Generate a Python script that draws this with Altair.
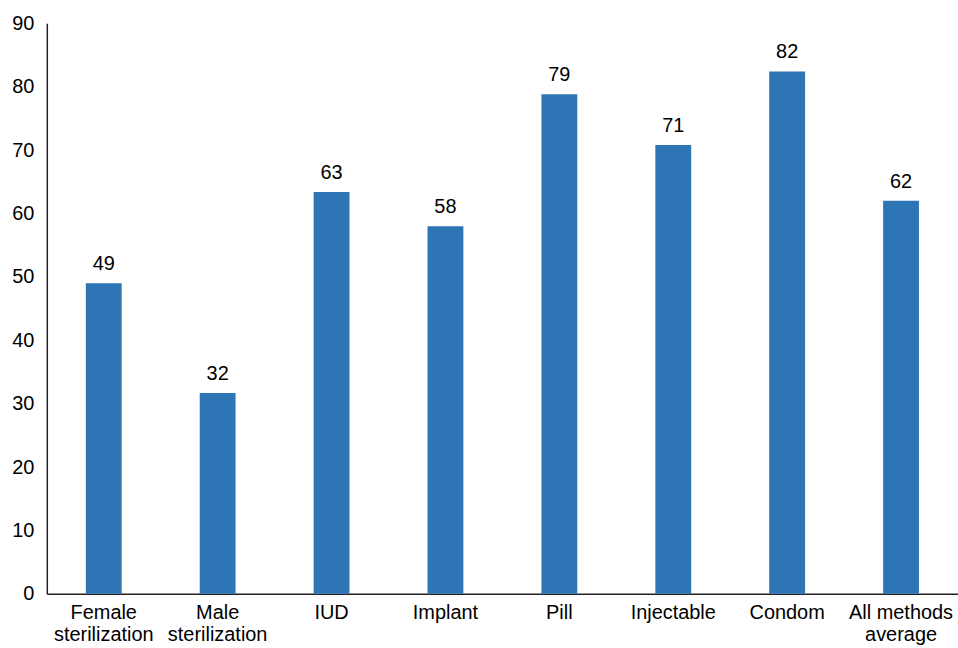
import altair as alt
import pandas as pd

categories = ["Female\nsterilization", "Male\nsterilization", "IUD", "Implant", "Pill",
              "Injectable", "Condom", "All methods\naverage"]
values = [49.0, 31.7, 63.4, 58.0, 78.8, 70.8, 82.4, 62.0]
labels = ["49", "32", "63", "58", "79", "71", "82", "62"]

df = pd.DataFrame({"cat": categories, "value": values, "label": labels})

FONT = "Liberation Sans"
BLUE = "#2E75B6"
FS = 20

x = alt.X("cat:N", sort=categories, title=None,
          scale=alt.Scale(paddingInner=0, paddingOuter=0),
          axis=alt.Axis(labelAngle=0, labelExpr="split(datum.label, '\\n')",
                        ticks=False, labelPadding=9, labelFontSize=FS, labelFont=FONT,
                        labelColor="#000000", domainColor="#222222", domainWidth=1.5,
                        labelLineHeight=22, labelBaseline="top", grid=False))
y = alt.Y("value:Q", title=None,
          scale=alt.Scale(domain=[0, 90], nice=False),
          axis=alt.Axis(values=list(range(0, 91, 10)), grid=False, ticks=False,
                        labelPadding=13, labelFontSize=FS, labelFont=FONT,
                        labelColor="#000000", domainColor="#222222", domainWidth=1.5))

bars = alt.Chart(df).mark_bar(size=36, color=BLUE).encode(x=x, y=y)
text = alt.Chart(df).mark_text(baseline="bottom", dy=-9, fontSize=FS, font=FONT,
                               color="#000000").encode(
    x=alt.X("cat:N", sort=categories),
    y=alt.Y("value:Q"),
    text="label:N")

chart = (bars + text).properties(
    width=915, height=573,
    background="white",
    autosize=alt.AutoSizeParams(type="none"),
    padding={"left": 47, "top": 22, "right": 0, "bottom": 53},
).configure_view(stroke="transparent", strokeWidth=0
).configure_axis(grid=False)

chart.save("out.html", embed_options={"renderer": "svg", "actions": False})
